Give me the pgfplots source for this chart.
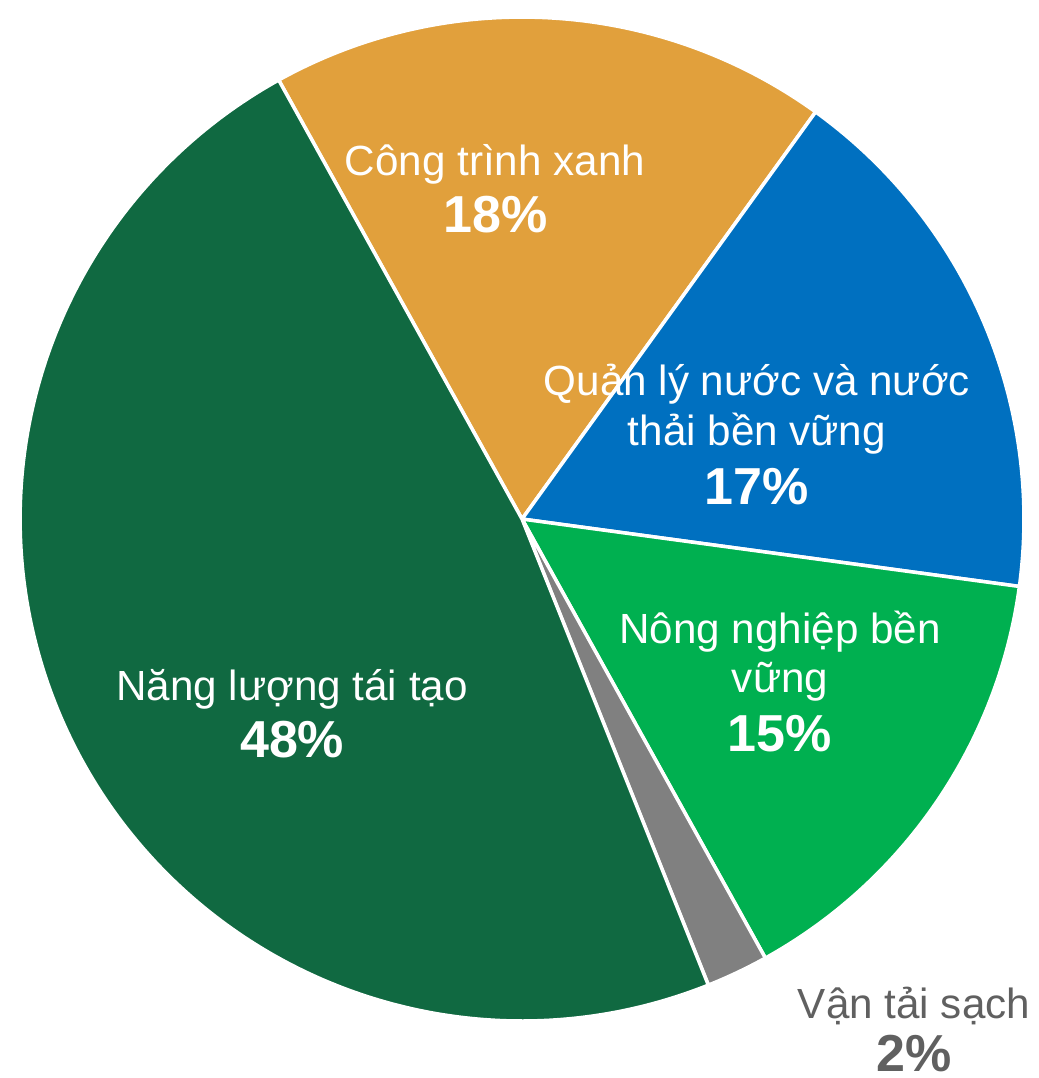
\documentclass[border=0pt]{standalone}
\usepackage{pgfplots}
\pgfplotsset{compat=1.18}
\usepackage{fontspec}
\setmainfont{Liberation Sans}
\definecolor{cOrange}{HTML}{E1A03C}
\definecolor{cBlue}{HTML}{0070C0}
\definecolor{cGreen}{HTML}{00B050}
\definecolor{cGrey}{HTML}{808080}
\definecolor{cDark}{HTML}{106941}
\definecolor{cText}{HTML}{606060}
\newcommand{\lab}{\fontsize{12}{14}\selectfont}
\newcommand{\pct}{\fontsize{14.8}{17}\selectfont\bfseries}
\begin{document}
\begin{tikzpicture}
% shares (percent), clockwise from the start angle
\pgfmathsetmacro{\vOrange}{18.0}
\pgfmathsetmacro{\vBlue}{17.2}
\pgfmathsetmacro{\vGreen}{14.8}
\pgfmathsetmacro{\vGrey}{2.0}
\pgfmathsetmacro{\vDark}{48.0}
\pgfmathsetmacro{\aA}{119}
\pgfmathsetmacro{\aB}{\aA-3.6*\vOrange}
\pgfmathsetmacro{\aC}{\aB-3.6*\vBlue}
\pgfmathsetmacro{\aD}{\aC-3.6*\vGreen}
\pgfmathsetmacro{\aE}{\aD-3.6*\vGrey}
\pgfmathsetmacro{\aF}{\aE-3.6*\vDark}
\begin{axis}[
  width=10.38cm, height=10.78cm, scale only axis,
  xmin=-1.040, xmax=1.028, ymin=-1.1135, ymax=1.034,
  hide axis, clip=false,
]
\addplot[fill=cOrange, draw=white, line width=1pt, domain=\aB:\aA, samples=120, variable=\t] ({cos(\t)},{sin(\t)}) -- (axis cs:0,0) -- cycle;
\addplot[fill=cBlue, draw=white, line width=1pt, domain=\aC:\aB, samples=120, variable=\t] ({cos(\t)},{sin(\t)}) -- (axis cs:0,0) -- cycle;
\addplot[fill=cGreen, draw=white, line width=1pt, domain=\aD:\aC, samples=120, variable=\t] ({cos(\t)},{sin(\t)}) -- (axis cs:0,0) -- cycle;
\addplot[fill=cGrey, draw=white, line width=1pt, domain=\aE:\aD, samples=30, variable=\t] ({cos(\t)},{sin(\t)}) -- (axis cs:0,0) -- cycle;
\addplot[fill=cDark, draw=white, line width=1pt, domain=\aF:\aE, samples=240, variable=\t] ({cos(\t)},{sin(\t)}) -- (axis cs:0,0) -- cycle;

\node[anchor=base, text=white, font=\lab] at (axis cs:-0.054,0.685) {Công trình xanh};
\node[anchor=base, text=white, font=\pct] at (axis cs:-0.052,0.570) {18\%};
\node[anchor=base, text=white, font=\lab] at (axis cs:0.468,0.247) {Quản lý nước và nước};
\node[anchor=base, text=white, font=\lab] at (axis cs:0.468,0.147) {thải bền vững};
\node[anchor=base, text=white, font=\pct] at (axis cs:0.468,0.028) {17\%};
\node[anchor=base, text=white, font=\lab] at (axis cs:0.514,-0.247) {Nông nghiệp bền};
\node[anchor=base, text=white, font=\lab] at (axis cs:0.514,-0.345) {vững};
\node[anchor=base, text=white, font=\pct] at (axis cs:0.514,-0.464) {15\%};
\node[anchor=base, text=white, font=\lab] at (axis cs:-0.458,-0.361) {Năng lượng tái tạo};
\node[anchor=base, text=white, font=\pct] at (axis cs:-0.458,-0.476) {48\%};
\node[anchor=base, text=cText, font=\lab] at (axis cs:0.781,-0.994) {Vận tải sạch};
\node[anchor=base, text=cText, font=\pct] at (axis cs:0.781,-1.100) {2\%};
\end{axis}
\pgfresetboundingbox
\path (current axis.south west) rectangle (current axis.north east);
\end{tikzpicture}
\end{document}
